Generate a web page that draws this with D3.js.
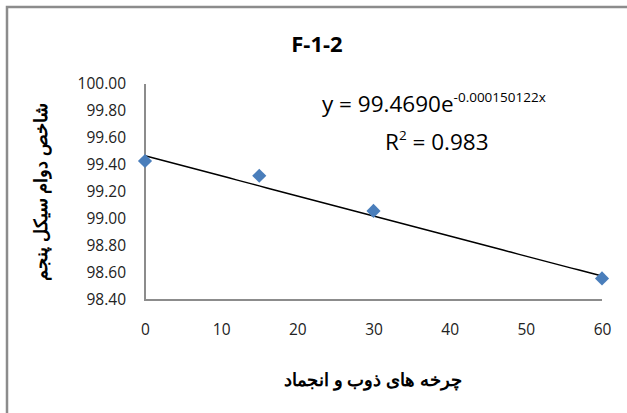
<!DOCTYPE html>
<html><head><meta charset="utf-8">
<script src="https://cdn.jsdelivr.net/npm/d3@7"></script>
<style>body{margin:0;background:#fff}svg{display:block}text{font-family:"Open Sans","Liberation Sans",sans-serif}</style>
</head><body><svg id="c" width="627" height="413"></svg>
<script>
const cycles = [0, 15, 30, 60];
const index5 = [99.43, 99.32, 99.06, 98.56];
const xTicks = [0, 10, 20, 30, 40, 50, 60];
const yTicks = [98.4, 98.6, 98.8, 99.0, 99.2, 99.4, 99.6, 99.8, 100.0];
const trendA = 99.4690, trendB = -0.000150122;
const title = "F-1-2";
const xLabel = "چرخه های ذوب و انجماد";
const yLabel = "شاخص دوام سیکل پنجم";

const svg = d3.select("#c");
svg.append("path").attr("d","M7,413 V7 H627").attr("fill","none").attr("stroke","#8c8c8c").attr("stroke-width",2.5);

const x = d3.scaleLinear().domain([0,60]).range([145,602]);
const y = d3.scaleLinear().domain([98.4,100]).range([300,84]);

const gx = svg.append("g").attr("transform","translate(0,300)")
  .call(d3.axisBottom(x).tickValues(xTicks).tickSize(0).tickPadding(24).tickFormat(d3.format("d")));
const gy = svg.append("g").attr("transform","translate(145,0)")
  .call(d3.axisLeft(y).tickValues(yTicks).tickSize(0).tickPadding(19).tickFormat(d3.format(".2f")));
[gx,gy].forEach(g=>{
  g.select(".domain").remove();
  g.selectAll("text").attr("font-size",15.5).attr("fill","#222").attr("font-family","'Open Sans',sans-serif");
});
svg.append("path").attr("d",`M${x(0)},${y(100)} V${y(98.4)} H${x(60)}`).attr("fill","none").attr("stroke","#8c8c8c").attr("stroke-width",2);

const tl = d3.range(0,60.01,1).map(v=>[v, trendA*Math.exp(trendB*v)]);
svg.append("path").datum(tl).attr("d", d3.line().x(d=>x(d[0])).y(d=>y(d[1])))
  .attr("fill","none").attr("stroke","#000").attr("stroke-width",1.5);

svg.selectAll(".pt").data(cycles.map((c,i)=>[c,index5[i]])).join("path")
  .attr("class","pt")
  .attr("d", d3.symbol(d3.symbolSquare, 100))
  .attr("transform", d=>`translate(${x(d[0])},${y(d[1])}) rotate(45)`)
  .attr("fill","#4a7ebb");

svg.append("text").attr("x",317).attr("y",52).attr("text-anchor","middle")
  .attr("font-size",22).attr("font-weight","bold").attr("fill","#000").text(title);

const eq = svg.append("text").attr("x",322).attr("y",112).attr("font-size",22.5).attr("fill","#000");
eq.append("tspan").text("y = " + trendA.toFixed(4) + "e");
eq.append("tspan").attr("dy",-10).attr("font-size",13.5).text(trendB.toFixed(9) + "x");
const r2 = svg.append("text").attr("x",385).attr("y",150).attr("font-size",22.5).attr("fill","#000");
r2.append("tspan").text("R");
r2.append("tspan").attr("dy",-10).attr("font-size",13.5).text("2");
r2.append("tspan").attr("dy",10).text(" = 0.983");

svg.append("text").attr("x",373).attr("y",386).attr("text-anchor","middle")
  .attr("font-size",18).attr("font-weight","bold").attr("direction","rtl").attr("fill","#000").text(xLabel);
svg.append("text").attr("transform","translate(47,192) rotate(-90)").attr("text-anchor","middle")
  .attr("font-size",18).attr("font-weight","bold").attr("direction","rtl").attr("fill","#000").text(yLabel);
</script></body></html>
